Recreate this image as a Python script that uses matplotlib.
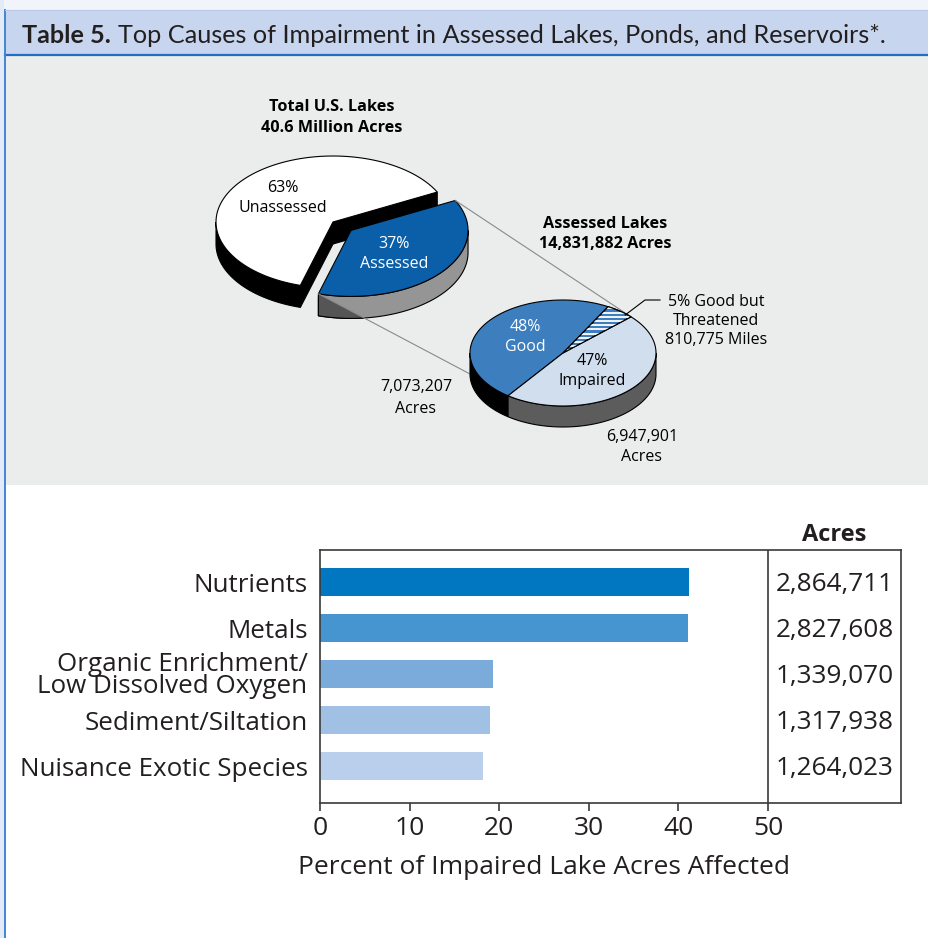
import numpy as np
import matplotlib.pyplot as plt
from matplotlib.patches import Polygon, Rectangle
from matplotlib.transforms import blended_transform_factory

plt.rcParams["font.family"] = ["Open Sans", "DejaVu Sans"]

# ---------------- data ----------------
TOTAL_LABELS = ["Unassessed", "Assessed"]
TOTAL_PCT = [63, 37]

ASSESSED_LABELS = ["Good but Threatened", "Good", "Impaired"]
ASSESSED_PCT = [5, 48, 47]
ASSESSED_AMOUNTS = ["810,775 Miles", "7,073,207", "6,947,901"]

causes = [
    "Nutrients",
    "Metals",
    "Organic Enrichment/\nLow Dissolved Oxygen",
    "Sediment/Siltation",
    "Nuisance Exotic Species",
]
pct_affected = [41.2, 41.1, 19.3, 19.0, 18.2]
acres_affected = [2864711, 2827608, 1339070, 1317938, 1264023]

BAR_COLORS = ["#0077c0", "#4695d0", "#7aabdb", "#a0c0e4", "#b9cfec"]

# ---------------- helpers ----------------
def arc(cx, cy, rx, ry, a0, a1, n=90):
    t = np.radians(np.linspace(a0, a1, n))
    return np.column_stack([cx + rx * np.cos(t), cy - ry * np.sin(t)])


def rim(cx, cy, rx, ry, a):
    t = np.radians(a)
    return np.array([cx + rx * np.cos(t), cy - ry * np.sin(t)])


def top_face(ax, cx, cy, rx, ry, a0, a1, fc, z):
    pts = np.vstack([[cx, cy], arc(cx, cy, rx, ry, a0, a1)])
    p = Polygon(pts, closed=True, fc=fc, ec="black", lw=0.8, zorder=z)
    ax.add_patch(p)
    return p


def side_face(ax, cx, cy, rx, ry, a0, a1, depth, fc, z):
    patches = []
    for k in (-1, 0, 1):
        lo = max(a0, 180 + 360 * k)
        hi = min(a1, 360 + 360 * k)
        if lo < hi:
            up = arc(cx, cy, rx, ry, lo, hi)
            down = up[::-1] + [0, depth]
            p = Polygon(np.vstack([up, down]), closed=True, fc=fc,
                        ec="black", lw=0.8, zorder=z)
            ax.add_patch(p)
            patches.append(p)
    return patches


def cut_face(ax, cx, cy, rx, ry, a, depth, fc, z):
    r = rim(cx, cy, rx, ry, a)
    pts = [[cx, cy], r, r + [0, depth], [cx, cy + depth]]
    ax.add_patch(Polygon(pts, closed=True, fc=fc, ec="black", lw=0.8, zorder=z))


# ---------------- figure ----------------
W, H = 929, 938
fig = plt.figure(figsize=(W / 100, H / 100), dpi=100)
bg = fig.add_axes([0, 0, 1, 1])
bg.set_xlim(0, W)
bg.set_ylim(H, 0)
bg.axis("off")

# frame pieces
bg.add_patch(Rectangle((0, 0), W, 10, fc="#f1f5fb", ec="none", zorder=0))
bg.add_patch(Rectangle((0, 0), 4, H, fc="#e2ebf7", ec="none", zorder=0))
bg.add_patch(Rectangle((5, 10), W, 45, fc="#c7d6ee", ec="none", zorder=1))
bg.add_patch(Rectangle((5, 56), W, 429, fc="#ebecec", ec="none", zorder=1))
bg.plot([5, W], [55.5, 55.5], color="#1f6fc0", lw=1.6, zorder=2)
bg.plot([4.8, 4.8], [10, H], color="#3f86d0", lw=1.4, zorder=2)
bg.plot([5, W], [10, 10], color="#b7c9e6", lw=0.8, zorder=2)

t1 = bg.text(22, 43, "Table 5.", fontsize=18.2, fontweight="bold",
             family=["Lato", "DejaVu Sans"], color="#231f20",
             ha="left", va="baseline", zorder=3)
bg.annotate("Top Causes of Impairment in Assessed Lakes, Ponds, and Reservoirs*.",
            xy=(1, 0), xycoords=t1, xytext=(5, 0), textcoords="offset points",
            fontsize=18.2, family=["Lato", "DejaVu Sans"], color="#231f20",
            ha="left", va="bottom", zorder=3)

# ---------------- big pie ----------------
cx, cy, rx, ry, d = 333, 222, 117, 66, 22
start = 27
a_un0 = start
a_un1 = start + TOTAL_PCT[0] * 3.6
a_as0, a_as1 = a_un1, start + 360
mid = np.radians((a_as0 + a_as1) / 2)
ox, oy = 0.2 * rx * np.cos(mid), -0.2 * ry * np.sin(mid)
acx, acy = cx + ox, cy + oy

side_face(bg, cx, cy, rx, ry, a_un0, a_un1, d, "black", 4)
cut_face(bg, cx, cy, rx, ry, a_un0, d, "black", 4)
cut_face(bg, cx, cy, rx, ry, a_un1, d, "black", 4)
top_face(bg, cx, cy, rx, ry, a_un0, a_un1, "white", 5)

# small pie geometry (needed for connectors)
sx, sy, srx, sry, sd = 563, 353, 93, 53, 21
s_start = 43
bounds = s_start + np.concatenate([[0], np.cumsum(ASSESSED_PCT) * 3.6])

p_top = rim(acx, acy, rx, ry, a_as1)
p_bot = rim(acx, acy, rx, ry, a_as0)
q_top = rim(sx, sy, srx, sry, bounds[0])
q_bot = np.array([sx - srx, sy + sd])

sides = side_face(bg, acx, acy, rx, ry, a_as0, a_as1, d, "#959595", 6)
clip = Polygon([p_bot, q_bot, q_bot + [0, 200], p_bot + [-60, 200]],
               closed=True, transform=bg.transData)
for sp in sides:
    dark = Polygon(sp.get_xy(), closed=True, fc="#555555", ec="black",
                   lw=0.8, zorder=6.5)
    bg.add_patch(dark)
    dark.set_clip_path(clip)
top_face(bg, acx, acy, rx, ry, a_as0, a_as1, "#0b5ea8", 7)

bg.plot([p_top[0], q_top[0]], [p_top[1], q_top[1]], color="#8a8a8a", lw=0.8, zorder=8)
bg.plot([p_bot[0], q_bot[0]], [p_bot[1], q_bot[1]], color="#8a8a8a", lw=0.8, zorder=8)

# ---------------- small pie ----------------
side_colors = ["#3d7ebf", "black", "#5c5c5c"]
top_colors = ["#3d7ebf", "#3d7ebf", "#d0deee"]
for i in range(3):
    side_face(bg, sx, sy, srx, sry, bounds[i], bounds[i + 1], sd, side_colors[i], 9)
tops = []
for i in range(3):
    tops.append(top_face(bg, sx, sy, srx, sry, bounds[i], bounds[i + 1], top_colors[i], 10))
for yy in np.arange(sy - sry, sy, 4.2):
    ln, = bg.plot([sx, sx + srx], [yy, yy], color="white", lw=1.3, zorder=10.5)
    ln.set_clip_path(tops[0])
top_face(bg, sx, sy, srx, sry, bounds[0], bounds[1], "none", 10.6)

lead = rim(sx, sy, srx * 0.98, sry * 0.98, bounds[0] + 4)
bg.plot([lead[0], 645, 660], [lead[1], 300, 300], color="black", lw=0.8, zorder=11)

# ---------------- pie labels ----------------
fs = 11.5
ls = 1.32
bg.text(332, 107, "Total U.S. Lakes", fontsize=11.7, fontweight="bold", ha="center", va="center")
bg.text(332, 128, "40.6 Million Acres", fontsize=11.7, fontweight="bold", ha="center", va="center")
bg.text(283, 198, f"{TOTAL_PCT[0]}%\n{TOTAL_LABELS[0]}", fontsize=fs, ha="center",
        va="center", linespacing=ls, zorder=12)
bg.text(394, 254, f"{TOTAL_PCT[1]}%\n{TOTAL_LABELS[1]}", fontsize=fs, ha="center",
        va="center", color="white", linespacing=ls, zorder=12)
bg.text(605, 224, "Assessed Lakes", fontsize=11.7, fontweight="bold", ha="center", va="center")
bg.text(605, 244, "14,831,882 Acres", fontsize=11.7, fontweight="bold", ha="center", va="center")
bg.text(525, 337, f"{ASSESSED_PCT[1]}%\n{ASSESSED_LABELS[1]}", fontsize=fs, ha="center",
        va="center", color="white", linespacing=ls, zorder=12)
bg.text(592, 371, f"{ASSESSED_PCT[2]}%\n{ASSESSED_LABELS[2]}", fontsize=fs, ha="center",
        va="center", linespacing=ls, zorder=12)
bg.text(716, 321, f"{ASSESSED_PCT[0]}% Good but\nThreatened\n{ASSESSED_AMOUNTS[0]}",
        fontsize=fs, ha="center", va="center", linespacing=1.28, zorder=12)
bg.text(416, 398, f"{ASSESSED_AMOUNTS[1]}\nAcres", fontsize=fs, ha="center",
        va="center", linespacing=1.5, zorder=12)
bg.text(642, 447, f"{ASSESSED_AMOUNTS[2]}\nAcres", fontsize=fs, ha="center",
        va="center", linespacing=1.4, zorder=12)

# ---------------- bar chart ----------------
L, R, T, B = 320, 901, 550, 803
ax = fig.add_axes([L / W, (H - B) / H, (R - L) / W, (B - T) / H])
XMAX = 50 * (R - L) / (768 - L)
ypos = np.arange(len(causes))
ax.barh(ypos, pct_affected, height=0.62, color=BAR_COLORS, zorder=2)
ax.set_xlim(0, XMAX)
ax.set_ylim(len(causes) - 0.2, -0.7)
ax.set_xticks([0, 10, 20, 30, 40, 50])
ax.set_yticks(ypos)
ax.set_yticklabels(causes, fontsize=18.7, linespacing=0.82, color="#231f20")
ax.tick_params(axis="y", length=0, pad=9)
ax.tick_params(axis="x", length=6, width=1.2, color="#3a3a3a", labelsize=19,
               labelcolor="#231f20", pad=3)
for s in ax.spines.values():
    s.set_color("#3a3a3a")
    s.set_linewidth(1.2)
ax.axvline(50, color="#3a3a3a", lw=1.2)
ax.set_xlabel("Percent of Impaired Lake Acres Affected", fontsize=19,
              color="#231f20")
ax.xaxis.set_label_coords((50 / XMAX) * 0.5, -0.205)

xc = (50 + XMAX) / 2
for y, a in zip(ypos, acres_affected):
    ax.text(xc, y + 0.04, f"{a:,}", fontsize=18.8, ha="center", va="center", color="#231f20")
tr = blended_transform_factory(ax.transData, ax.transAxes)
ax.text(xc, 1.012, "Acres", transform=tr, fontsize=17, fontweight="bold",
        ha="center", va="bottom", color="#231f20")

fig.savefig("out.png", dpi=100)
